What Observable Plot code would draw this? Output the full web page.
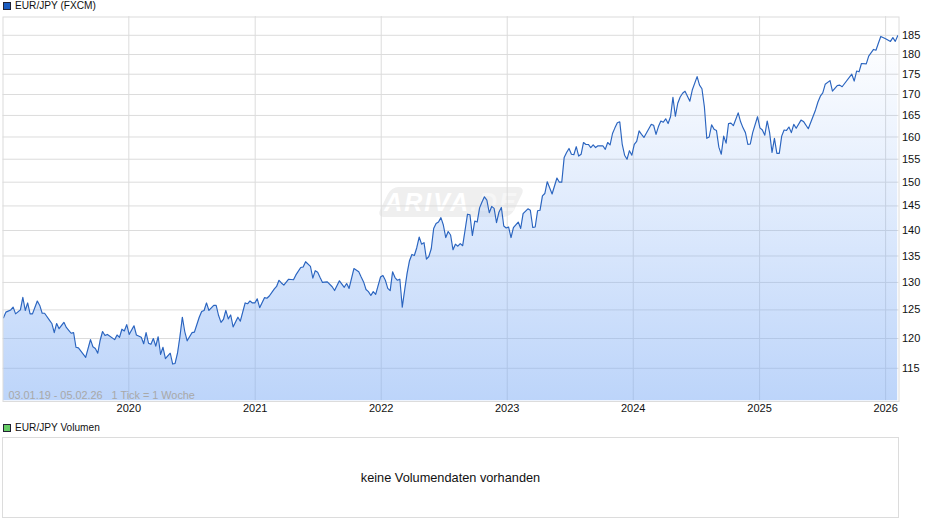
<!DOCTYPE html>
<html lang="de">
<head>
<meta charset="utf-8">
<script src="https://cdn.jsdelivr.net/npm/d3@7"></script>
<script src="https://cdn.jsdelivr.net/npm/@observablehq/plot@0.6"></script>
<style>
html,body{margin:0;padding:0;background:#fff;width:940px;height:526px;overflow:hidden;font-family:"Liberation Sans",Arial,sans-serif;color:#111}
#page{position:relative;width:940px;height:526px}
.leg{position:absolute;left:3px;font-size:10.15px;line-height:12px;display:flex;align-items:center;gap:4px;white-space:nowrap}
.sw{width:6px;height:6px;border:1px solid #223;display:inline-block;flex:none}
#chart{position:absolute;left:0;top:16px;z-index:2}
#mark{position:absolute;left:384px;top:187px;width:134px;height:30px;background:#efefef;border-radius:7px;transform:skewX(-26deg);z-index:1}
#markText{position:absolute;left:380px;top:189px;width:142px;z-index:1;color:#fff;font:italic bold 25px/26px "Liberation Sans",Arial,sans-serif;text-align:center;letter-spacing:2px;white-space:nowrap}
#markText .de{color:#f6f6f6}
#vol{position:absolute;left:2px;top:437px;width:895px;height:79px;border:1px solid #dcdcdc;display:flex;align-items:center;justify-content:center;font-size:12.75px}
</style>
</head>
<body>
<div id="page">
  <div class="leg" style="top:0"><span class="sw" style="background:#1a5cc0"></span><span id="t1"></span></div>
  <div id="mark"></div>
  <div id="markText">ARIVA<span class="de">.DE</span></div>
  <div id="chart"></div>
  <div class="leg" style="top:422px"><span class="sw" style="background:#66cc66"></span><span id="t2"></span></div>
  <div id="vol"></div>
</div>
<script>
const seriesName = "EUR/JPY (FXCM)";
const volumeName = "EUR/JPY Volumen";
const volumeNote = "keine Volumendaten vorhanden";
const rangeNote = "03.01.19 - 05.02.26\u00a0\u00a0\u00a01 Tick = 1 Woche";

const startDate = [2019, 0, 3];
const endDate = [2026, 1, 5];
const yTicks = [115,120,125,130,135,140,145,150,155,160,165,170,175,180,185];
const yearTicks = [2020,2021,2022,2023,2024,2025,2026];
const baseline = 109.8;

// Weeks since 03.01.19 and the rate at that week
const weeks = [
0,1,3,4,5,7,8,9,10,11,12,14,15,16,17,19,20,21,22,23,25,26,27,28,29,30,31,34,36,37,38,39,40,41,42,43,46,47,48,49,50,51,52,54,55,57,58,59,60,61,62,63,64,65,66,67,69,70,71,72,73,74,75,76,78,79,81,82,83,84,85,87,88,89,90,91,92,93,94,95,97,98,100,101,102,103,104,105,106,108,109,110,112,113,114,115,116,118,120,121,123,124,125,127,128,129,130,
131,132,134,136,137,139,141,142,143,145,147,148,149,150,151,152,153,154,156,157,158,159,160,161,162,163,164,165,166,167,168,169,170,171,172,173,174,175,176,177,178,179,180,181,182,183,184,185,186,187,188,189,190,191,192,193,194,195,196,197,198,199,200,201,202,203,204,205,206,207,208,209,210,211,213,214,215,217,218,219,220,221,222,223,224,225,227,229,230,231,
232,233,234,235,236,237,238,239,240,241,242,243,244,245,246,248,249,250,251,252,253,254,255,
256,257,258,259,260,261,262,263,264,265,268,269,270,271,272,273,274,275,276,277,278,279,280,281,282,284,285,287,288,289,290,291,292,293,294,295,296,297,298,299,300,301,302,304,305,306,307,308,309,310,312,313,314,315,316,317,318,319,320,321,322,323,324,325,326,327,328,330,331,333,336,337,338,339,340,342,343,345,346,347,351,352,353,354,355,357,358,360,361,362,363,365,367,368,369,370
];
const rates = [
123.6,124.6,125,125.5,124.3,125,127.25,124.9,126.25,124.3,124.3,126.6,125.8,124.4,124.4,123.2,122.6,121,122.6,121.7,122.8,121.9,121.4,120.9,121,118.5,118.4,116.8,119.8,118.6,118.3,117.5,119.7,121.2,120.5,120.7,119.8,120.6,120.2,121.6,121.3,122.4,120.7,122.2,120.6,120.2,119.1,121,119.2,119,120,118.7,120.3,117.3,118.5,116.6,117.5,115.7,115.8,117.5,120.3,123.7,121.2,119.6,121,121.1,123.7,124.7,124.9,126.25,124.9,125.8,125.8,124,122.8,123.3,124.9,123.4,124.1,122,123.7,123,126.25,126.1,126.6,126.25,126.25,127,125.4,127.2,127.1,127.5,128.75,129.25,130.4,129.9,129.5,130.6,130.5,131.4,132.8,132.9,133.9,133,130.8,132.2,131.9,
130.9,130,130.1,129.2,128.5,130.3,129.1,129.8,128.9,132.6,132,131,130.1,128.7,128.3,127.6,128.3,127.8,131,131.3,130.4,128.9,128.5,132,130.9,130.4,130.6,125.5,128.6,131.7,134.1,135.3,135.1,136.6,138.7,137.3,137.6,134.4,134.9,136.4,140.4,141.4,141.7,142.6,141.1,138.6,139.8,139.1,136.2,137.3,136.9,137.4,137,140.1,143.3,143.2,139,141.9,141.7,144.6,145.8,146.9,146.2,143.6,144.9,144.5,141.6,143.7,144.7,140.9,140.5,140.7,138.6,140.6,141.7,140.4,143.4,144.4,144.1,140.6,140.7,144,144.1,147.1,147.6,150.1,147.5,150.9,150,150,
155.4,156.5,157.4,156.1,156,157.8,155.7,156.1,158.75,158.3,158.3,157.6,158.2,157.6,158,158,157.2,158.75,158.2,160.8,162.1,163.3,163.5,
158.4,155.9,155,156.9,155.9,158.3,159,161.4,160.6,159.9,162.9,162.7,160.6,162.4,163.7,163.4,164.2,163.1,164.7,169.3,164.8,167.9,169.4,170.3,170.8,168.4,171.1,174.4,172.3,171.4,167.1,159.7,160,162.8,161.8,161.5,157.7,156.1,160.2,158.6,163.1,163.2,162.6,165.6,163.5,162.1,161,158.3,158.4,161,164.7,162.1,161.6,160.4,163.7,161,156.5,159.7,156.3,156.3,160.2,161.6,161.5,162.3,161,162.9,162,163.9,163.6,161.9,166.3,168.2,169.6,170.4,172.5,173.4,170.8,172.2,172.3,171.9,175,173.3,175.8,175.6,177.7,177.6,179.6,181.3,181.1,182.9,184.7,184.1,183.4,184.4,183.4,184.9
];
if (weeks.length !== rates.length) throw new Error("lengths differ " + weeks.length + " " + rates.length);

const utc = a => new Date(Date.UTC(a[0], a[1], a[2]));
const data = weeks.map((w, i) => ({date: new Date(Date.UTC(2019, 0, 3 + 7 * w)), rate: rates[i]}));
const yearDates = yearTicks.map(y => new Date(Date.UTC(y, 0, 1)));

const gradient = () => {
  const ns = "http://www.w3.org/2000/svg";
  const defs = document.createElementNS(ns, "defs");
  defs.innerHTML = `<linearGradient id="fillGrad" x1="0" y1="0" x2="0" y2="1">
    <stop offset="0" stop-color="#7aaaf5" stop-opacity="0"/>
    <stop offset="1" stop-color="#7aaaf5" stop-opacity="0.5"/></linearGradient>`;
  return defs;
};

const plot = Plot.plot({
  width: 940, height: 400,
  marginTop: 0.5, marginLeft: 2.5, marginRight: 41.5, marginBottom: 15,
  style: {background: "transparent", fontFamily: '"Liberation Sans",Arial,sans-serif', fontSize: "11px", color: "#111"},
  x: {type: "utc", domain: [utc(startDate), utc(endDate)], range: [3, 897.2]},
  y: {type: "log", domain: [115, 185], range: [351.8, 18.8]},
  marks: [
    gradient,
    Plot.ruleY(yTicks, {stroke: "#dcdcdc", strokeWidth: 1}),
    Plot.ruleX(yearDates, {stroke: "#dcdcdc", strokeWidth: 1, y1: baseline, y2: 190}),
    Plot.areaY(data, {x: "date", y1: baseline, y2: "rate", fill: "url(#fillGrad)"}),
    Plot.line(data, {x: "date", y: "rate", stroke: "#2a64bf", strokeWidth: 1.15, curve: "linear"}),
    Plot.frame({stroke: "#dcdcdc", strokeWidth: 1}),
    Plot.axisY(yTicks, {anchor: "right", label: null, tickSize: 0, tickPadding: 3, tickFormat: d => String(d)}),
    Plot.axisX(yearDates, {anchor: "bottom", label: null, tickSize: 0, tickPadding: 3, tickFormat: d => String(d.getUTCFullYear())}),
    Plot.text([rangeNote], {frameAnchor: "bottom-left", dx: 5.5, dy: -2.5, fill: "#a8a8a8", fontSize: 10.85, textAnchor: "start"})
  ]
});
document.getElementById("chart").appendChild(plot);
document.getElementById("t1").textContent = seriesName;
document.getElementById("t2").textContent = volumeName;
document.getElementById("vol").textContent = volumeNote;
</script>
</body>
</html>
